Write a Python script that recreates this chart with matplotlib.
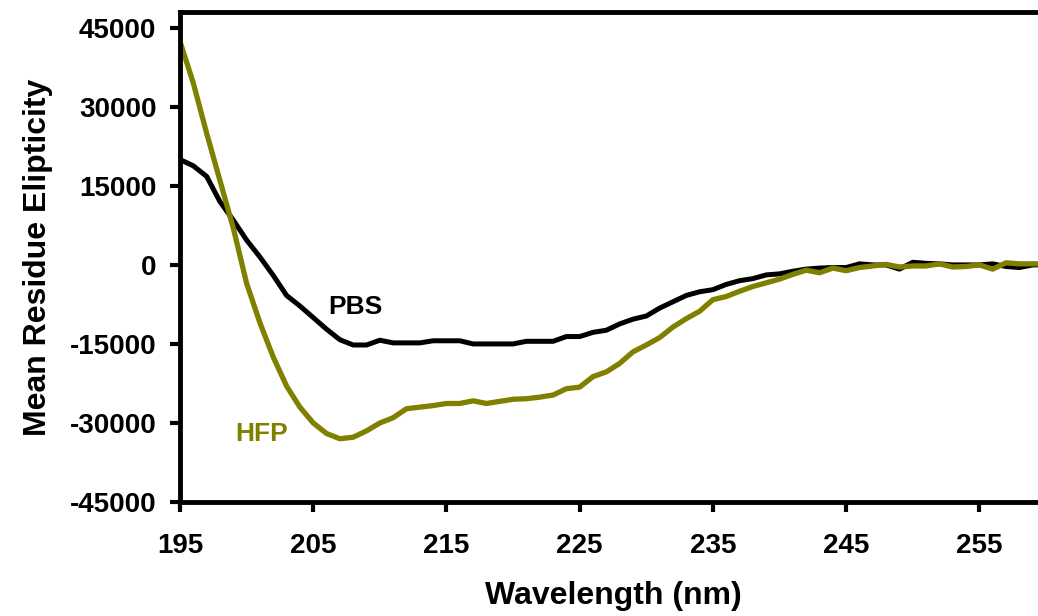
import matplotlib
matplotlib.use("Agg")
import matplotlib.pyplot as plt
import numpy as np

wavelength = np.arange(195, 261)

pbs = [
    20000, 18800, 16800, 12000, 8500, 4700, 1500, -2000, -5800, -7800,
    -10000, -12200, -14200, -15200, -15200, -14300, -14800, -14800, -14800, -14400,
    -14400, -14400, -15000, -15000, -15000, -15000, -14500, -14500, -14500, -13600,
    -13600, -12800, -12400, -11200, -10300, -9700, -8200, -7000, -5800, -5100,
    -4700, -3700, -3000, -2600, -1900, -1700, -1200, -800, -600, -500,
    -500, 200, 0, 0, -800, 500, 300, 200, 0, 0,
    0, 200, -300, -500, 0, 0,
]

hfp = [
    42400, 34500, 25000, 16000, 7000, -3500, -11000, -17500, -23000, -27000,
    -30000, -32000, -33000, -32700, -31500, -30000, -29000, -27300, -27000, -26700,
    -26300, -26300, -25800, -26300, -25900, -25500, -25400, -25100, -24700, -23500,
    -23200, -21200, -20300, -18700, -16500, -15200, -13800, -11800, -10200, -8800,
    -6600, -6000, -5000, -4100, -3400, -2700, -1800, -1000, -1500, -600,
    -1100, -500, -200, 100, -400, -200, -200, 200, -400, -300,
    0, -800, 400, 200, 200, 200,
]

xticks = [195, 205, 215, 225, 235, 245, 255]
yticks = [-45000, -30000, -15000, 0, 15000, 30000, 45000]

plt.rcParams["font.family"] = ["Liberation Sans", "DejaVu Sans"]
plt.rcParams["font.weight"] = "bold"
plt.rcParams["axes.unicode_minus"] = False

fig = plt.figure(figsize=(10.38, 6.16), dpi=100)
ax = fig.add_axes([180 / 1038, 1 - 502 / 616, 866 / 1038, 490 / 616])

ax.plot(wavelength, pbs, color="black", lw=3.6, solid_joinstyle="round")
ax.plot(wavelength, hfp, color="#808000", lw=3.8, solid_joinstyle="round")

ax.text(208.2, -8000, "PBS", fontsize=19, fontweight="bold", color="black", ha="center", va="center")
ax.text(201.1, -32000, "HFP", fontsize=19, fontweight="bold", color="#808000", ha="center", va="center")

ax.set_xlim(195, 260)
ax.set_ylim(-45000, 48000)
ax.set_xticks(xticks)
ax.set_yticks(yticks)
ax.tick_params(direction="out", length=7, width=3, labelsize=20, pad=10)
ax.tick_params(axis="x", pad=15)
for s in ax.spines.values():
    s.set_linewidth(3.5)

ax.set_xlabel("Wavelength (nm)", fontsize=23, fontweight="bold", labelpad=16)
ax.set_ylabel("Mean Residue Elipticity", fontsize=23, fontweight="bold", labelpad=12)

fig.savefig("out.png", dpi=100)
